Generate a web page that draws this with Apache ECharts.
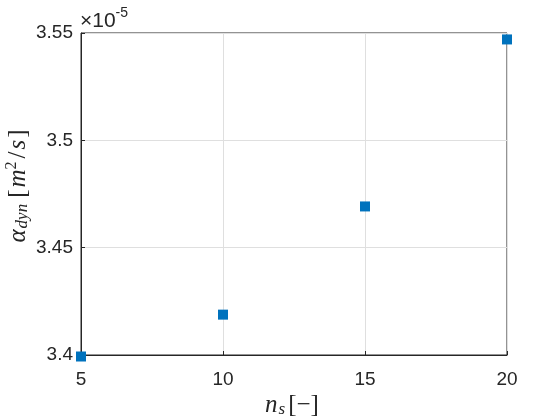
<!DOCTYPE html>
<html>
<head>
<meta charset="utf-8">
<script src="https://cdn.jsdelivr.net/npm/echarts@6/dist/echarts.min.js"></script>
<style>
  html, body { margin: 0; padding: 0; background: #fff; }
  #chart { width: 560px; height: 420px; }
</style>
</head>
<body>
<div id="chart"></div>
<script>
// data (y in units of 1e-5 m^2/s)
const nsValues = [5, 10, 15, 20];
const alphaValues = [3.3993, 3.4188, 3.4692, 3.5470];
const xTicks = [5, 10, 15, 20];
const yTicks = ['3.4', '3.45', '3.5', '3.55'];

const chart = echarts.init(document.getElementById('chart'));

const tickFont = {
  fontFamily: 'Liberation Sans, Arial, sans-serif',
  fontSize: 19,
  color: '#262626'
};
const mathFont = 'Liberation Serif, DejaVu Serif, serif';

const option = {
  animation: false,
  backgroundColor: '#fff',
  grid: { left: 81, right: 53, top: 33, bottom: 65 },
  xAxis: {
    type: 'value',
    min: 5,
    max: 20,
    interval: 5,
    axisLine: { show: true, onZero: false, lineStyle: { color: '#262626', width: 1 } },
    axisTick: { show: true, inside: true, length: 4, lineStyle: { color: '#262626' } },
    axisLabel: Object.assign({ margin: 15, formatter: v => xTicks.includes(v) ? String(v) : '' }, tickFont),
    splitLine: { show: true, lineStyle: { color: '#dfdfdf', width: 1 } }
  },
  yAxis: {
    type: 'value',
    min: 3.4,
    max: 3.55,
    interval: 0.05,
    axisLine: { show: true, onZero: false, lineStyle: { color: '#262626', width: 1 } },
    axisTick: { show: true, inside: true, length: 4, lineStyle: { color: '#262626' } },
    axisLabel: Object.assign({
      margin: 8,
      formatter: v => {
        const i = Math.round((v - 3.4) / 0.05);
        return yTicks[i] !== undefined ? yTicks[i] : '';
      }
    }, tickFont),
    splitLine: { show: true, lineStyle: { color: '#dfdfdf', width: 1 } }
  },
  series: [{
    type: 'scatter',
    symbol: 'rect',
    symbolSize: 10,
    clip: false,
    itemStyle: { color: '#0072BD', opacity: 1 },
    data: nsValues.map((x, i) => [x, alphaValues[i]])
  }],
  graphic: [
    // top and right box edges
    {
      type: 'rect',
      shape: { x: 81, y: 33, width: 426, height: 322 },
      style: { fill: 'none', stroke: '#262626', lineWidth: 1 },
      silent: true,
      z: -1
    },
    {
      type: 'text',
      left: 80,
      top: 6,
      style: {
        text: '{a|×10}{b|-5}',
        rich: {
          a: { fontFamily: 'Liberation Sans, Arial, sans-serif', fontSize: 21, fill: '#262626', padding: [8, 0, 0, 0] },
          b: { fontFamily: 'Liberation Sans, Arial, sans-serif', fontSize: 14, fill: '#262626', padding: [0, 0, 8, 0] }
        }
      }
    },
    {
      type: 'text',
      x: 292,
      y: 405,
      style: {
        text: '{n|n}{s|s}{b|[−]}',
        align: 'center',
        verticalAlign: 'middle',
        rich: {
          n: { fontFamily: mathFont, fontStyle: 'italic', fontSize: 25, fill: '#262626' },
          s: { fontFamily: mathFont, fontStyle: 'italic', fontSize: 17, fill: '#262626', padding: [9, 3, 0, 1] },
          b: { fontFamily: mathFont, fontSize: 25, fill: '#262626' }
        }
      }
    },
    {
      type: 'text',
      x: 18,
      y: 185,
      rotation: Math.PI / 2,
      style: {
        text: '{a|α}{s|dyn}{b|[}{m|m}{p|2}{b|/}{m|s}{b|]}',
        align: 'center',
        verticalAlign: 'middle',
        rich: {
          a: { fontFamily: mathFont, fontStyle: 'italic', fontSize: 25, fill: '#262626' },
          s: { fontFamily: mathFont, fontStyle: 'italic', fontSize: 17, fill: '#262626', padding: [9, 4, 0, 1] },
          b: { fontFamily: mathFont, fontSize: 25, fill: '#262626', padding: [0, 2, 0, 2] },
          m: { fontFamily: mathFont, fontStyle: 'italic', fontSize: 25, fill: '#262626' },
          p: { fontFamily: mathFont, fontSize: 16, fill: '#262626', padding: [0, 1, 12, 0] }
        }
      }
    }
  ]
};

chart.setOption(option);
</script>
</body>
</html>
